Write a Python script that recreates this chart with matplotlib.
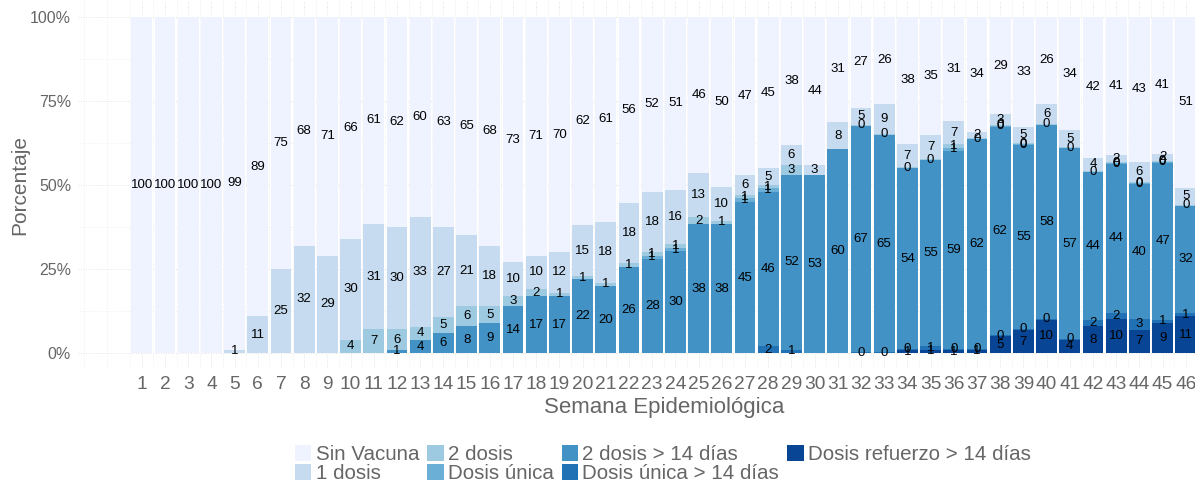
import numpy as np
import matplotlib
matplotlib.use("Agg")
import matplotlib.pyplot as plt
from matplotlib.patches import Patch

plt.rcParams['font.family'] = ['Liberation Sans', 'DejaVu Sans']

N = None
Z = 0.3  # present but rounds to 0

weeks = list(range(1, 47))
categories = ["Sin Vacuna", "1 dosis", "2 dosis", "Dosis única",
              "2 dosis > 14 días", "Dosis única > 14 días", "Dosis refuerzo > 14 días"]
colors = ["#EFF3FF", "#C6DBEF", "#9ECAE1", "#6BAED6", "#4292C6", "#2171B5", "#084594"]

sin_vacuna = [100, 100, 100, 100, 99, 89, 75, 68, 71, 66, 61, 62, 60, 63, 65, 68, 73, 71, 70,
              62, 61, 56, 52, 51, 46, 50, 47, 45, 38, 44, 31, 27, 26, 38, 35, 31, 34, 29, 33,
              26, 34, 42, 41, 43, 41, 51]
una_dosis = [N, N, N, N, 1, 11, 25, 32, 29, 30, 31, 30, 33, 27, 21, 18, 10, 10, 12, 15, 18, 18,
             18, 16, 13, 10, 6, 5, 6, 3, 8, 5, 9, 7, 7, 7, 2, 3, 5, 6, 5, 4, 2, 6, 2, 5]
dos_dosis = [N, N, N, N, N, N, N, N, N, 4, 7, 6, 4, 5, 6, 5, 3, 2, 1, 1, 1, 1, 1, 1, 2, 1, 1, 1,
             3, N, N, Z, Z, Z, Z, 1, Z, Z, Z, Z, Z, Z, Z, Z, Z, Z]
dosis_unica = [N] * 22 + [1, 1, N, N, 1, 1, N, N, N, N, N, N, N, 1, N, Z, Z, N, N, N, Z, Z, Z, N]
dos_dosis_14 = [N] * 11 + [1, 4, 6, 8, 9, 14, 17, 17, 22, 20, 26, 28, 30, 38, 38, 45, 46, 52, 53,
                           60, 67, 65, 54, 55, 59, 62, 62, 55, 58, 57, 44, 44, 40, 47, 32]
unica_14 = [N] * 27 + [2, 1, N, N, Z, Z, Z, 1, Z, Z, Z, Z, Z, Z, 2, 2, 3, 1, 1]
refuerzo = [N] * 33 + [1, 1, 1, 1, 5, 7, 10, 4, 8, 10, 7, 9, 11]

series = [sin_vacuna, una_dosis, dos_dosis, dosis_unica, dos_dosis_14, unica_14, refuerzo]

W, H = 1195, 482
fig = plt.figure(figsize=(W / 100, H / 100), dpi=100)
ax = fig.add_axes([78 / W, 1 - 370 / H, (1249.6 - 78) / W, 370 / H])

vals = np.array([[np.nan if v is None else v for v in s] for s in series], dtype=float)
totals = np.nansum(vals, axis=0)
x = np.array(weeks)

bottom = np.zeros(len(weeks))
# stacking from bottom: reverse legend order
for ci in range(len(categories) - 1, -1, -1):
    raw = vals[ci]
    h = np.where(np.isnan(raw), 0, raw) / totals * 100
    ax.bar(x, h, bottom=bottom, width=0.9, color=colors[ci], linewidth=0, zorder=2)
    for i in range(len(weeks)):
        if not np.isnan(raw[i]):
            ax.text(x[i], bottom[i] + h[i] / 2, f"{raw[i]:.0f}", ha="center", va="center",
                    fontsize=9.5, color="black", zorder=3)
    bottom = bottom + h

ax.set_xlim(-1.75, 48.75)
ax.set_ylim(-5, 105)
ax.set_xticks(weeks)
ax.set_xticklabels([str(w) for w in weeks], fontsize=13.8, color="#666666")
ax.set_xticks(np.arange(-1.5, 49, 1.0), minor=True)
ax.set_yticks([0, 25, 50, 75, 100])
ax.set_yticklabels(["0%", "25%", "50%", "75%", "100%"], fontsize=11.5, color="#666666")
ax.set_yticks([12.5, 37.5, 62.5, 87.5], minor=True)
ax.tick_params(axis="both", which="both", length=0)
ax.tick_params(axis="x", pad=4)
ax.tick_params(axis="y", pad=5)
ax.grid(True, which="major", color="#dadada", linestyle=(0, (1, 2)), linewidth=0.6, zorder=0)
ax.grid(True, which="minor", color="#e6e6e6", linestyle=(0, (1, 2)), linewidth=0.5, zorder=0)
ax.set_axisbelow(True)
for s in ax.spines.values():
    s.set_visible(False)

fig.text(664 / W, 1 - 408 / H, "Semana Epidemiológica", ha="center", va="center",
         fontsize=16, color="#666666")
fig.text(20 / W, 1 - 185 / H, "Porcentaje", ha="center", va="center", rotation=90,
         fontsize=15, color="#666666")

handles = [Patch(facecolor=c, edgecolor="none") for c in colors]
fig.legend(handles, categories, ncol=4, loc="upper left",
           bbox_to_anchor=(295 / W, 1 - 445 / H), frameon=False, fontsize=14.8,
           handlelength=0.8, handleheight=0.8, handletextpad=0.2, columnspacing=0.4,
           labelspacing=0.0, borderpad=0, borderaxespad=0, labelcolor="#666666")

fig.savefig("out.png", dpi=100)
